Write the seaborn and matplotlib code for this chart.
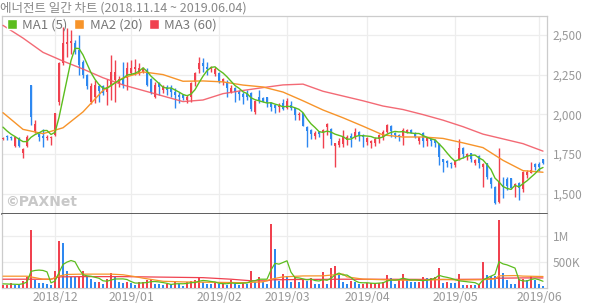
import numpy as np
import pandas as pd
import matplotlib
matplotlib.use("Agg")
import matplotlib.pyplot as plt
import seaborn as sns
from matplotlib.patches import Patch
from matplotlib.ticker import FuncFormatter

# ---------------- data ----------------
title = "에너전트 일간 차트 (2018.11.14 ~ 2019.06.04)"
month_idx = [13, 32, 54, 71, 91, 113, 134]
month_labels = ["2018/12", "2019/01", "2019/02", "2019/03", "2019/04", "2019/05", "2019/06"]

opens = [1845,1862,1860,1800,1850,1758,1800,2184,1895,1875,
         1862,1852,1850,1870,2080,2320,2440,2450,2450,2405,
         2330,2250,2075,2111,2175,2175,2143,2185,2216,2195,
         2225,2227,2258,2283,2258,2269,2280,2225,2111,2195,
         2153,2174,2164,2143,2122,2122,2090,2111,2205,2283,
         2325,2300,2283,2254,2262,2205,2205,2143,2164,2143,
         2128,2132,2132,2017,2107,2100,2107,2069,2059,2044,
         2069,2038,2059,2038,1996,2006,1922,1901,1865,1890,
         1890,1918,1905,1800,1807,1813,1838,1863,1855,1890,
         1870,1828,1817,1817,1844,1859,1890,1926,1884,1870,
         1863,1890,1901,1884,1834,1884,1834,1844,1838,1813,
         1716,1708,1695,1680,1716,1786,1733,1754,1691,1737,
         1666,1691,1597,1544,1450,1555,1590,1597,1550,1569,
         1527,1618,1632,1685,1685,1716]
highs = [1860,1870,1865,1858,1855,1785,1870,2184,1965,1885,
         1905,1868,1866,2010,2330,2550,2545,2530,2470,2500,
         2340,2255,2200,2215,2190,2185,2225,2375,2340,2240,
         2330,2330,2340,2350,2320,2300,2290,2230,2205,2205,
         2185,2185,2185,2164,2143,2130,2122,2205,2269,2363,
         2352,2332,2305,2300,2269,2230,2216,2185,2174,2150,
         2140,2153,2140,2090,2153,2111,2110,2075,2065,2069,
         2096,2100,2084,2042,2017,2010,1925,1905,1897,1895,
         1905,1943,1911,1821,1849,1901,1870,1880,1912,1895,
         1875,1859,1838,1859,1876,1901,1939,1933,1890,1876,
         1912,1905,1905,1890,1860,1890,1855,1850,1845,1817,
         1720,1712,1700,1712,1842,1796,1755,1758,1720,1742,
         1691,1695,1607,1550,1786,1607,1603,1600,1565,1576,
         1643,1649,1702,1695,1702,1720]
lows = [1838,1840,1835,1795,1795,1727,1795,1935,1880,1830,
        1795,1840,1808,1865,2060,2310,2360,2380,2380,2250,
        2230,2160,2065,2070,2080,2120,2060,2090,2080,2170,
        2165,2155,2250,2250,2250,2260,2175,2130,2100,2120,
        2136,2120,2110,2038,2070,2090,2070,2080,2175,2258,
        2269,2248,2265,2240,2195,2185,2111,2132,2080,2090,
        2065,2090,2023,2002,2069,2075,2044,2023,2006,2017,
        2027,2031,2027,1964,1964,1925,1796,1842,1842,1855,
        1785,1870,1807,1670,1796,1796,1807,1796,1842,1830,
        1792,1807,1786,1800,1817,1838,1880,1855,1849,1834,
        1807,1885,1880,1850,1813,1796,1800,1800,1796,1681,
        1639,1670,1660,1670,1712,1723,1712,1702,1681,1660,
        1540,1590,1534,1435,1443,1470,1523,1527,1477,1460,
        1513,1597,1628,1649,1645,1690]
closes = [1852,1855,1852,1855,1800,1780,1855,1983,1940,1855,
          1850,1860,1860,2006,2322,2447,2455,2462,2395,2310,
          2250,2175,2180,2185,2145,2135,2174,2268,2268,2225,
          2185,2290,2290,2300,2290,2290,2185,2136,2185,2174,
          2174,2153,2143,2122,2107,2100,2111,2195,2262,2325,
          2306,2283,2300,2283,2212,2220,2164,2164,2143,2128,
          2111,2107,2031,2084,2090,2080,2069,2044,2038,2052,
          2031,2086,2038,1996,2002,1928,1897,1876,1880,1876,
          1901,1939,1842,1817,1834,1863,1859,1849,1890,1870,
          1855,1849,1834,1842,1870,1890,1932,1897,1870,1855,
          1901,1901,1884,1855,1855,1834,1849,1834,1821,1733,
          1702,1695,1687,1706,1786,1750,1750,1716,1712,1695,
          1687,1607,1561,1439,1576,1540,1548,1534,1561,1534,
          1639,1639,1649,1670,1670,1695]
# volume, thousands of shares
volumes = [58,58,104,65,60,130,220,1128,156,97,
           95,84,65,331,914,875,320,215,210,212,
           325,215,175,110,115,78,175,293,209,115,
           90,115,95,65,110,112,150,175,80,68,
           50,78,65,140,80,45,110,140,155,210,
           110,78,75,110,78,80,65,150,78,65,
           110,78,335,110,215,110,78,1230,745,144,
           272,239,123,220,123,175,144,200,80,75,
           311,80,384,420,250,117,84,136,117,78,
           84,90,95,100,105,112,258,196,86,150,
           262,150,120,108,112,220,195,198,215,395,
           104,117,104,97,275,58,60,65,58,84,
           510,255,240,232,1310,293,160,82,80,180,
           182,150,233,156,78,35]

# price moving averages as drawn on the chart
ma1 = [1919,1895,1875,1860,
       1843,1828,1828,1855,1872,1883,1897,1898,1873,1886,
       1980,2099,2218,2338,2416,2414,2374,2318,2262,2220,
       2187,2164,2164,2181,2198,2214,2224,2247,2252,2258,
       2271,2292,2271,2240,2217,2194,2171,2164,2166,2153,
       2140,2125,2117,2127,2155,2199,2240,2274,2295,2299,
       2277,2260,2236,2209,2181,2164,2142,2131,2104,2092,
       2085,2078,2071,2073,2064,2057,2047,2050,2049,2041,
       2031,2010,1972,1940,1917,1891,1886,1894,1888,1875,
       1867,1859,1843,1844,1859,1866,1865,1863,1860,1850,
       1850,1857,1874,1886,1892,1889,1891,1885,1882,1879,
       1879,1866,1855,1845,1839,1814,1788,1757,1728,1705,
       1715,1725,1736,1742,1743,1725,1712,1683,1652,1598,
       1574,1545,1533,1527,1552,1543,1563,1581,1604,1626,
       1653,1665]
ma_idx = list(range(0, 136, 5))
ma2 = [2010,1905,1878,1915,2015,2150,2229,2267,2250,2208,
       2210,2204,2184,2172,2140,2085,2027,1978,1925,1870,
       1857,1857,1848,1820,1790,1710,1645,1635]
ma3 = [2560,2480,2390,2335,2285,2230,2185,2150,2115,2080,
       2090,2130,2150,2168,2185,2190,2145,2115,2085,2052,
       2030,1998,1963,1922,1875,1845,1815,1768]

# volume moving averages as drawn on the chart (thousands)
vol_ma5 = [80,78,75,72,
           69,83,116,321,339,346,339,312,99,134,
           298,454,501,531,507,366,256,235,227,207,
           188,139,131,154,174,174,176,164,125,96,
           95,99,106,122,125,117,105,90,68,80,
           83,82,88,103,106,132,145,139,126,117,
           90,84,82,97,90,88,94,96,133,140,
           170,170,170,349,476,461,494,526,305,200,
           195,176,157,172,144,135,162,149,186,254,
           289,250,251,201,141,106,100,101,93,89,
           95,100,134,154,151,160,190,169,154,158,
           150,142,151,167,188,245,221,206,187,163,
           139,130,119,111,103,65,155,194,229,264,
           509,466,447,415,385,159,137,135,165,180,
           160,130]
vol_ma20_idx = [0,6,8,10,12,14,16,20,27,30,33,35,40,45,50,55,60,65,67,70,
                75,80,85,86,90,95,100,105,110,115,120,123,124,128,130,135]
vol_ma20 = [228,228,200,170,168,230,262,268,268,256,220,190,130,118,112,108,103,118,170,215,
            233,235,270,215,172,160,150,150,164,155,160,175,235,240,230,222]
vol_ma60_idx = [0,12,14,20,30,40,50,57,62,66,67,75,85,100,110,120,124,130,135]
vol_ma60 = [170,170,215,220,220,210,200,170,140,138,158,165,170,168,165,170,190,195,195]

# ---------------- styling ----------------
sns.set_style("white")
plt.rcParams['font.family'] = ['Noto Sans CJK KR', 'DejaVu Sans']

UP = '#f0414f'
DOWN = '#2e88f0'
C_MA1 = '#5cbd1e'
C_MA2 = '#f7942a'
C_MA3 = '#f25a66'
GRID = '#ededed'
TXT = '#999999'
BORDER = '#cccccc'

n = len(closes)
assert len(opens) == n == len(highs) == len(lows) == len(volumes) == len(ma1) == len(vol_ma5)
x = np.arange(n)
o = np.array(opens, float); c = np.array(closes, float)
h = np.array(highs, float); l = np.array(lows, float)
up = c >= o
ccol = np.where(up, UP, DOWN)

vol = np.array(volumes, float)
vup = np.r_[True, vol[1:] >= vol[:-1]]
vcol = np.where(vup, UP, DOWN)

W, H = 594, 304
fig = plt.figure(figsize=(W / 100, H / 100), dpi=100)
ax = fig.add_axes([2 / W, 1 - 214 / H, 545 / W, 198 / H])
axv = fig.add_axes([2 / W, 1 - 288 / H, 545 / W, 74 / H])

# ---- price panel ----
ax.set_xlim(-0.25, 136)
ax.set_ylim(1372, 2619)
ax.set_yticks([1500, 1750, 2000, 2250, 2500])
ax.set_xticks(month_idx)
ax.grid(True, color=GRID, lw=0.9)
ax.set_axisbelow(True)

ax.vlines(x, l, h, colors=ccol, lw=1.0, zorder=2)
body = np.maximum(np.abs(c - o), 6)
ax.bar(x, body, bottom=np.minimum(o, c), width=0.72, color=ccol, linewidth=0, zorder=3)

sns.lineplot(x=ma_idx, y=ma3, ax=ax, color=C_MA3, lw=1.0, sort=False, zorder=4, alpha=0.9)
sns.lineplot(x=ma_idx, y=ma2, ax=ax, color=C_MA2, lw=1.0, sort=False, zorder=4)
sns.lineplot(x=x, y=ma1, ax=ax, color=C_MA1, lw=1.0, sort=False, zorder=5)

ax.yaxis.tick_right()
ax.yaxis.set_major_formatter(FuncFormatter(lambda v, p: f"{int(v):,}"))
ax.tick_params(axis='y', length=0, pad=4, labelsize=8.5, labelcolor=TXT)
ax.tick_params(axis='x', length=0, labelbottom=False)
ax.set_xlabel(''); ax.set_ylabel('')
for s in ['top', 'left', 'right']:
    ax.spines[s].set_color(BORDER); ax.spines[s].set_linewidth(0.9)
ax.spines['bottom'].set_color('#333333'); ax.spines['bottom'].set_linewidth(1.1)

handles = [Patch(facecolor=C_MA1, label='MA1 (5)'),
           Patch(facecolor=C_MA2, label='MA2 (20)'),
           Patch(facecolor='#f0414f', label='MA3 (60)')]
leg = ax.legend(handles=handles, loc='upper left', bbox_to_anchor=(0.0, 1.015), ncol=3,
                frameon=False, fontsize=9.5, handlelength=0.75, handleheight=0.8,
                handletextpad=0.4, columnspacing=0.5, borderaxespad=0.2, borderpad=0.2)
for t in leg.get_texts():
    t.set_color('#777777')

fig.text(5 / W, 1 - 202 / H, "©PAXNet", color='#c8c8c8', fontsize=10,
         fontweight='bold', ha='left', va='center', family=['DejaVu Sans'])
fig.text(0 / W, 1 - 8 / H, title, color='#888888', fontsize=9, ha='left', va='center')

# ---- volume panel ----
axv.set_xlim(-0.25, 136)
axv.set_ylim(0, 1430)
axv.set_yticks([500, 1000])
axv.set_yticklabels(['500K', '1M'])
axv.set_xticks(month_idx)
axv.set_xticklabels(month_labels)
axv.grid(True, color=GRID, lw=0.9)
axv.set_axisbelow(True)
axv.bar(x, vol, width=0.72, color=vcol, linewidth=0, zorder=3)
sns.lineplot(x=vol_ma60_idx, y=vol_ma60, ax=axv, color=UP, lw=0.9, sort=False, zorder=4)
sns.lineplot(x=vol_ma20_idx, y=vol_ma20, ax=axv, color=C_MA2, lw=0.9, sort=False, zorder=4)
sns.lineplot(x=x, y=vol_ma5, ax=axv, color=C_MA1, lw=0.9, sort=False, zorder=5)
axv.yaxis.tick_right()
axv.tick_params(axis='y', length=0, pad=4, labelsize=8.5, labelcolor=TXT)
axv.tick_params(axis='x', length=0, pad=2, labelsize=8.8, labelcolor=TXT)
axv.set_xlabel(''); axv.set_ylabel('')
axv.spines['top'].set_visible(False)
for s in ['left', 'right', 'bottom']:
    axv.spines[s].set_color(BORDER); axv.spines[s].set_linewidth(0.9)

fig.savefig("out.png", dpi=100, facecolor='white')
